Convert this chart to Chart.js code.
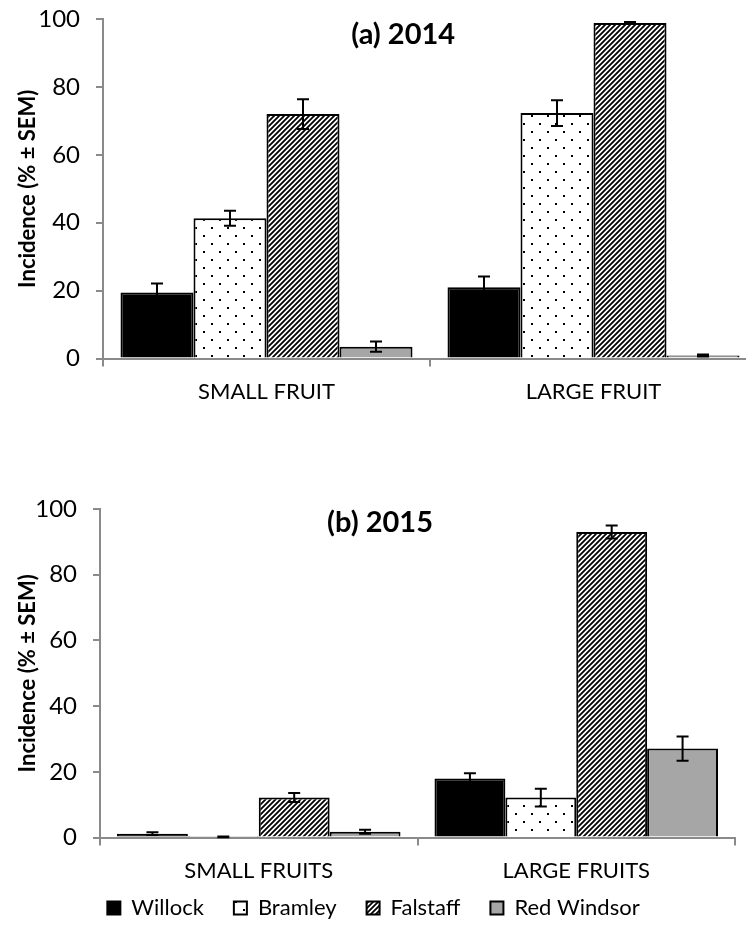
<!DOCTYPE html>
<html lang="en">
<head>
  <meta charset="UTF-8" />
  <title>Incidence by fruit size</title>
  <script src="https://cdn.jsdelivr.net/npm/chart.js"></script>
  <style>
    html, body {
      margin: 0;
      padding: 0;
      background: #fff;
      width: 746px;
      height: 930px;
      overflow: hidden;
      position: relative;
    }
    .box { position: absolute; left: 0; }
    #top { top: 0; width: 760px; height: 417px; }
    #bottom { top: 490px; width: 746px; height: 440px; }
  </style>
</head>
<body>

  <div class="box" id="top"><canvas id="chart2014"></canvas></div>
  <div class="box" id="bottom"><canvas id="chart2015"></canvas></div>

  <script>
    // data
    const cultivars = ['Willock', 'Bramley', 'Falstaff', 'Red Windsor'];
    const categories2014 = ['SMALL FRUIT', 'LARGE FRUIT'];
    const categories2015 = ['SMALL FRUITS', 'LARGE FRUITS'];
    const yTicks = [0, 20, 40, 60, 80, 100];

    // 2014: [small, large]
    const willock2014 = [19.5, 21.0];
    const bramley2014 = [41.3, 72.3];
    const falstaff2014 = [72.0, 98.8];
    const redWindsor2014 = [3.5, 0.9];
    const willockSem2014 = [2.6, 3.2];
    const bramleySem2014 = [2.2, 3.8];
    const falstaffSem2014 = [4.4, 0.3];
    const redWindsorSem2014 = [1.5, 0.3];

    // 2015: [small, large]
    const willock2015 = [1.2, 18.0];
    const bramley2015 = [0.2, 12.2];
    const falstaff2015 = [12.2, 93.0];
    const redWindsor2015 = [1.8, 27.1];
    const willockSem2015 = [0.4, 1.6];
    const bramleySem2015 = [0.1, 2.7];
    const falstaffSem2015 = [1.4, 2.0];
    const redWindsorSem2015 = [0.6, 3.7];

    // fill patterns
    function dotPattern() {
      const c = document.createElement('canvas');
      c.width = 16; c.height = 16;
      const g = c.getContext('2d');
      g.fillStyle = '#fff';
      g.fillRect(0, 0, 16, 16);
      g.fillStyle = '#000';
      g.fillRect(3, 3, 2, 2);
      g.fillRect(11, 11, 2, 2);
      return g.createPattern(c, 'repeat');
    }

    function hatchPattern() {
      const s = 5;
      const c = document.createElement('canvas');
      c.width = s; c.height = s;
      const g = c.getContext('2d');
      g.fillStyle = '#fff';
      g.fillRect(0, 0, s, s);
      g.strokeStyle = '#000';
      g.lineWidth = 1.8;
      g.beginPath();
      g.moveTo(0, s); g.lineTo(s, 0);
      g.moveTo(-1, 1); g.lineTo(1, -1);
      g.moveTo(s - 1, s + 1); g.lineTo(s + 1, s - 1);
      g.stroke();
      return g.createPattern(c, 'repeat');
    }

    const fills = ['#000000', dotPattern(), hatchPattern(), '#a6a6a6'];

    // error bars drawn over the bars
    const errorBars = {
      id: 'errorBars',
      afterDatasetsDraw(chart) {
        const ctx = chart.ctx;
        const y = chart.scales.y;
        ctx.save();
        ctx.strokeStyle = '#000';
        ctx.lineWidth = 2;
        chart.data.datasets.forEach((ds, i) => {
          chart.getDatasetMeta(i).data.forEach((bar, j) => {
            const v = ds.data[j], e = ds.sem[j];
            const top = y.getPixelForValue(v + e);
            const bot = y.getPixelForValue(Math.max(0, v - e));
            const cap = 6;
            ctx.beginPath();
            ctx.moveTo(bar.x, top); ctx.lineTo(bar.x, bot);
            ctx.moveTo(bar.x - cap, top); ctx.lineTo(bar.x + cap, top);
            ctx.moveTo(bar.x - cap, bot); ctx.lineTo(bar.x + cap, bot);
            ctx.stroke();
          });
        });
        ctx.restore();
      }
    };

    // panel label inside the plot area
    const panelLabel = {
      id: 'panelLabel',
      afterDraw(chart, args, opts) {
        const a = chart.chartArea;
        const ctx = chart.ctx;
        ctx.save();
        ctx.font = 'bold 29px Lato';
        ctx.fillStyle = '#000';
        ctx.textAlign = 'center';
        ctx.textBaseline = 'middle';
        ctx.fillText(opts.text, a.left + opts.fx * (a.right - a.left), a.top + opts.dy);
        ctx.restore();
      }
    };

    // pull the legend up closer to the axis labels
    const legendLift = {
      id: 'legendLift',
      afterLayout(chart, args, opts) {
        if (chart.legend && opts.by) {
          chart.legend.top -= opts.by;
          chart.legend.height += opts.by;
          chart.legend.left += opts.dx;
          chart.legend.right += opts.dx;
        }
      }
    };

    function makeDatasets(values, sems) {
      return cultivars.map((name, i) => ({
        label: name,
        data: values[i],
        sem: sems[i],
        backgroundColor: fills[i],
        borderColor: '#000',
        borderWidth: 2,
        categoryPercentage: 0.893,
        barPercentage: 1
      }));
    }

    function makeChart(id, labels, values, sems, cfg) {
      return new Chart(document.getElementById(id), {
        type: 'bar',
        data: { labels: labels, datasets: makeDatasets(values, sems) },
        plugins: [errorBars, panelLabel, legendLift],
        options: {
          responsive: true,
          maintainAspectRatio: false,
          animation: false,
          layout: { padding: cfg.padding },
          plugins: {
            legend: cfg.legend,
            tooltip: { enabled: false },
            panelLabel: cfg.label,
            legendLift: { by: cfg.lift, dx: 6 }
          },
          scales: {
            x: {
              grid: { drawOnChartArea: false, tickLength: 8, color: '#8a8a8a', lineWidth: 2, offset: true },
              border: { color: '#8a8a8a', width: 2 },
              ticks: { color: '#000', font: { family: 'Lato', size: 22 }, padding: 12 }
            },
            y: {
              min: 0,
              max: 100,
              afterBuildTicks(scale) { scale.ticks = yTicks.map(v => ({ value: v })); },
              afterFit(scale) {
                scale.width = cfg.axisLeft;
                scale.paddingTop = 0;
                scale.paddingBottom = 0;
              },
              grid: { drawOnChartArea: false, tickLength: 7, color: '#8a8a8a', lineWidth: 2 },
              border: { color: '#8a8a8a', width: 2 },
              ticks: { color: '#000', font: { family: 'Lato', size: 24 }, padding: 16 },
              title: {
                display: true,
                text: 'Incidence (% \u00b1 SEM)',
                color: '#000',
                font: { family: 'Lato', size: 22, weight: 'bold' },
                padding: { top: 15, bottom: 0 }
              }
            }
          }
        }
      });
    }

    makeChart('chart2014', categories2014,
      [willock2014, bramley2014, falstaff2014, redWindsor2014],
      [willockSem2014, bramleySem2014, falstaffSem2014, redWindsorSem2014],
      {
        padding: { top: 19, right: 3, left: 0, bottom: 0 },
        axisLeft: 103,
        lift: 0,
        legend: { display: false },
        label: { text: '(a) 2014', fx: 0.459, dy: 16 }
      });

    makeChart('chart2015', categories2015,
      [willock2015, bramley2015, falstaff2015, redWindsor2015],
      [willockSem2015, bramleySem2015, falstaffSem2015, redWindsorSem2015],
      {
        padding: { top: 19, right: 11, left: 0, bottom: 3 },
        axisLeft: 100,
        lift: 29,
        legend: {
          display: true,
          position: 'bottom',
          maxHeight: 31,
          labels: {
            color: '#000',
            font: { family: 'Lato', size: 22 },
            boxWidth: 13,
            boxHeight: 13,
            padding: 30
          }
        },
        label: { text: '(b) 2015', fx: 0.441, dy: 14 }
      });
  </script>
</body>
</html>
